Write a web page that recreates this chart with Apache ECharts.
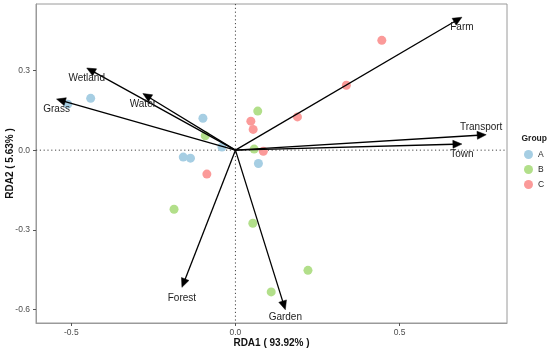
<!DOCTYPE html>
<html>
<head>
<meta charset="utf-8">
<script src="https://cdn.jsdelivr.net/npm/echarts@6/dist/echarts.min.js"></script>
<style>
html,body{margin:0;padding:0;background:#fff;}
#chart{width:550px;height:352px;}
</style>
</head>
<body>
<div id="chart"></div>
<script>
// ---- data ----
const groupNames = ['A', 'B', 'C'];
const rda1A = [-0.441, -0.511, -0.099, -0.041, -0.159, -0.137, 0.070];
const rda2A = [0.195, 0.173, 0.120, 0.012, -0.026, -0.030, -0.050];
const rda1B = [0.068, -0.092, 0.057, -0.187, 0.053, 0.109, 0.221];
const rda2B = [0.147, 0.054, 0.004, -0.222, -0.275, -0.533, -0.452];
const rda1C = [0.047, 0.054, 0.085, -0.087, 0.446, 0.338, 0.189];
const rda2C = [0.109, 0.078, -0.004, -0.090, 0.413, 0.244, 0.125];
const envNames = ['Farm', 'Transport', 'Town', 'Wetland', 'Water', 'Grass', 'Forest', 'Garden'];
const envRDA1 = [0.690, 0.764, 0.690, -0.453, -0.282, -0.545, -0.163, 0.152];
const envRDA2 = [0.500, 0.058, 0.023, 0.309, 0.213, 0.192, -0.516, -0.600];
const xTicks = [-0.5, 0.0, 0.5];
const yTicks = [-0.6, -0.3, 0.0, 0.3];
const xTitle = 'RDA1 ( 93.92% )';
const yTitle = 'RDA2 ( 5.63% )';

// ---- styling ----
const colors = ['#A6CEE3', '#B2DF8A', '#FB9A99'];
const labelOffset = { Transport: [-5, -7], Garden: [0, 8] };
const FONT = 'Liberation Sans, Arial, Helvetica, sans-serif';

const groupX = [rda1A, rda1B, rda1C];
const groupY = [rda2A, rda2B, rda2C];
const scatterSeries = groupNames.map((g, gi) => ({
  name: g,
  type: 'scatter',
  symbol: 'circle',
  symbolSize: 9,
  z: 2,
  itemStyle: { color: colors[gi], opacity: 1 },
  data: groupX[gi].map((x, i) => [x, groupY[gi][i]])
}));

const envData = envNames.map((n, i) => [envRDA1[i], envRDA2[i], n]);

const chart = echarts.init(document.getElementById('chart'), null, { renderer: 'canvas' });
chart.setOption({
  animation: false,
  backgroundColor: '#fff',
  textStyle: { fontFamily: FONT },
  title: {
    text: 'Group', left: 521.5, top: 134.5, padding: 0,
    textStyle: { fontFamily: FONT, fontSize: 8.5, fontWeight: 'bold', color: '#222' }
  },
  legend: {
    data: groupNames, orient: 'vertical', left: 524, top: 150,
    icon: 'circle', itemWidth: 9, itemHeight: 9, itemGap: 6, padding: 0,
    textStyle: { fontFamily: FONT, fontSize: 8.5, color: '#222' }
  },
  grid: {
    left: 36, right: 43, top: 4, bottom: 29, show: true,
    outerBoundsMode: 'none', containLabel: false,
    borderColor: '#9a9a9a', borderWidth: 1, backgroundColor: '#fff'
  },
  xAxis: {
    type: 'value', min: -0.6076, max: 0.8274,
    name: xTitle, nameLocation: 'middle', nameGap: 15, nameMoveOverlap: false,
    nameTextStyle: { fontFamily: FONT, fontSize: 10, fontWeight: 'bold', color: '#111' },
    axisLine: { show: true, onZero: false, lineStyle: { color: '#9a9a9a', width: 1 } },
    axisTick: { show: true, customValues: xTicks, length: 3, lineStyle: { color: '#555' } },
    axisLabel: { customValues: xTicks, margin: 5, fontSize: 8.5, color: '#4d4d4d', fontFamily: FONT,
      formatter: v => v.toFixed(1) },
    splitLine: { show: false }
  },
  yAxis: {
    type: 'value', min: -0.650, max: 0.5497,
    name: yTitle, nameLocation: 'middle', nameGap: 21, nameRotate: 90, nameMoveOverlap: false,
    nameTextStyle: { fontFamily: FONT, fontSize: 10, fontWeight: 'bold', color: '#111' },
    axisLine: { show: true, onZero: false, lineStyle: { color: '#9a9a9a', width: 1 } },
    axisTick: { show: true, customValues: yTicks, length: 3, lineStyle: { color: '#555' } },
    axisLabel: { customValues: yTicks, margin: 6, fontSize: 8.5, color: '#4d4d4d', fontFamily: FONT,
      formatter: v => v.toFixed(1) },
    splitLine: { show: false }
  },
  series: [
    {
      name: 'zero', type: 'custom', z: 1, silent: true,
      data: [[0, 0]],
      renderItem: function (params, api) {
        const cs = params.coordSys;
        const o = api.coord([0, 0]);
        const ls = { stroke: '#444', lineWidth: 1, lineDash: [1.2, 2.6] };
        return { type: 'group', children: [
          { type: 'line', shape: { x1: cs.x, y1: o[1], x2: cs.x + cs.width, y2: o[1] }, style: ls },
          { type: 'line', shape: { x1: o[0], y1: cs.y, x2: o[0], y2: cs.y + cs.height }, style: ls }
        ]};
      }
    },
    ...scatterSeries,
    {
      name: 'env', type: 'custom', z: 5, silent: true,
      data: envData,
      renderItem: function (params, api) {
        const o = api.coord([0, 0]);
        const t = api.coord([api.value(0), api.value(1)]);
        const name = envNames[params.dataIndex];
        const dx = t[0] - o[0], dy = t[1] - o[1];
        const len = Math.sqrt(dx * dx + dy * dy);
        const ux = dx / len, uy = dy / len;
        const hl = 9, hw = 4;
        const bx = t[0] - ux * hl, by = t[1] - uy * hl;
        const px = -uy, py = ux;
        const off = labelOffset[name] || [0, 10.5];
        return { type: 'group', children: [
          { type: 'line', shape: { x1: o[0], y1: o[1], x2: bx + ux * 1, y2: by + uy * 1 },
            style: { stroke: '#000', lineWidth: 1.3 } },
          { type: 'polygon', shape: { points: [
              [t[0], t[1]], [bx + px * hw, by + py * hw], [bx - px * hw, by - py * hw]] },
            style: { fill: '#000', stroke: '#000', lineWidth: 0.5 } },
          { type: 'text', x: t[0] + off[0], y: t[1] + off[1],
            style: { text: name, fill: '#222', font: '10px ' + FONT, align: 'center', verticalAlign: 'middle' } }
        ]};
      }
    }
  ]
});
</script>
</body>
</html>
